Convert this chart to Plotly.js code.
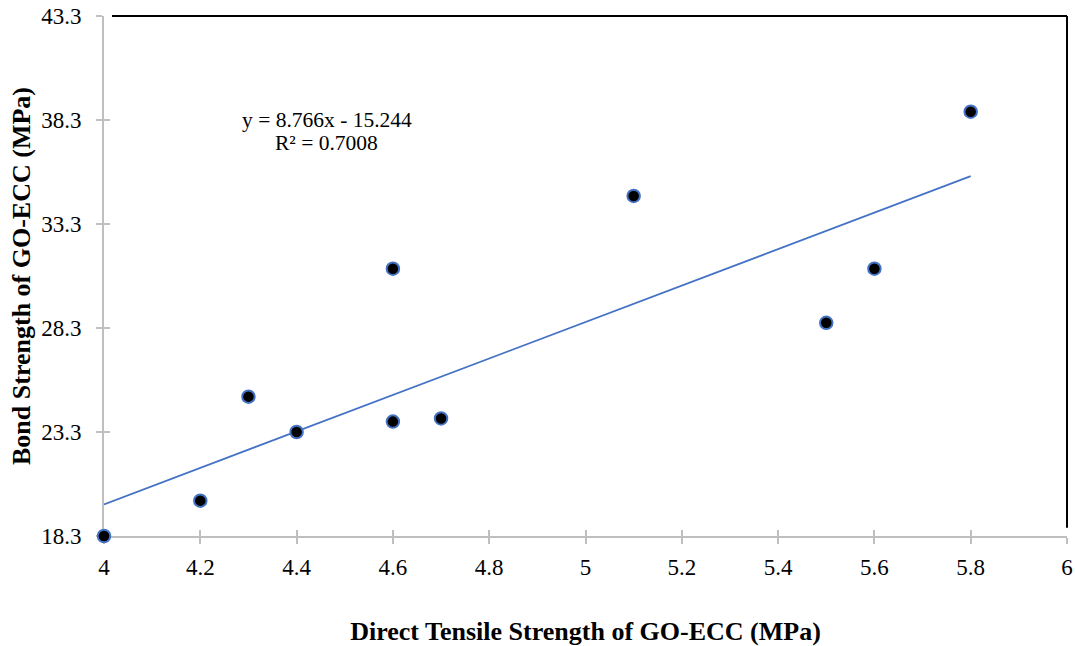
<!DOCTYPE html>
<html><head><meta charset="utf-8">
<script src="https://cdn.plot.ly/plotly-3.0.1.min.js"></script>
<style>body{margin:0;background:#fff}#c{width:1075px;height:646px}</style>
</head><body><div id="c"></div>
<script>
const tensile = [4.0, 4.2, 4.3, 4.4, 4.6, 4.6, 4.7, 5.1, 5.5, 5.6, 5.8];
const bond    = [18.3, 20.0, 25.0, 23.3, 31.15, 23.8, 23.95, 34.65, 28.55, 31.15, 38.7];
const slope = 8.766, intercept = -15.244, r2 = 0.7008;
const trendX = [4.0, 5.8];
const xTicks = [4, 4.2, 4.4, 4.6, 4.8, 5, 5.2, 5.4, 5.6, 5.8, 6];
const yTicks = [18.3, 23.3, 28.3, 33.3, 38.3, 43.3];

const font = {family: 'Liberation Serif, Times New Roman, serif', color: '#000'};
const traces = [
  {x: trendX, y: trendX.map(v => slope * v + intercept), mode: 'lines',
   line: {color: '#4472C4', width: 1.8}, hoverinfo: 'skip', showlegend: false},
  {x: tensile, y: bond, mode: 'markers', cliponaxis: false,
   marker: {color: '#000', size: 12.5, line: {color: '#4472C4', width: 2}}, showlegend: false}
];
const axBase = {showgrid: false, zeroline: false, linecolor: '#bfbfbf', linewidth: 2,
  tickcolor: '#bfbfbf', tickwidth: 2, ticklen: 6, tickmode: 'array', layer: 'below traces',
  tickfont: Object.assign({size: 23}, font)};
const layout = {
  width: 1075, height: 646,
  font: Object.assign({size: 23}, font),
  margin: {l: 104, r: 8, t: 16, b: 110},
  paper_bgcolor: '#fff', plot_bgcolor: '#fff',
  xaxis: Object.assign({}, axBase, {range: [4, 6], tickvals: xTicks,
    ticktext: xTicks.map(String), ticks: 'outside', showline: true, ticklabelstandoff: 3,
    title: {text: '<b>Direct Tensile Strength of GO-ECC (MPa)</b>', font: Object.assign({size: 26}, font), standoff: 45}}),
  yaxis: Object.assign({}, axBase, {range: [18.3, 43.3], tickvals: yTicks,
    ticktext: yTicks.map(v => v.toFixed(1)), ticks: 'outside', showline: true, ticklabelstandoff: 10,
    title: {text: '<b>Bond Strength of GO-ECC (MPa)</b>', font: Object.assign({size: 26}, font), standoff: 3}}),
  xaxis2: Object.assign({}, axBase, {range: [4, 6], tickvals: xTicks.slice(1), overlaying: 'x',
    ticks: 'inside', showticklabels: false, showline: false, anchor: 'y'}),
  yaxis2: Object.assign({}, axBase, {range: [18.3, 43.3], tickvals: yTicks.slice(1), overlaying: 'y',
    ticks: 'inside', showticklabels: false, showline: false, anchor: 'x'}),
  shapes: [
    {type: 'line', xref: 'paper', yref: 'paper', x0: 0.0083, x1: 1, y0: 1, y1: 1,
     line: {color: '#000', width: 2}},
    {type: 'line', xref: 'paper', yref: 'paper', x0: 1, x1: 1, y0: 1, y1: 0.016,
     line: {color: '#000', width: 2}}
  ],
  annotations: [
    {xref: 'x', yref: 'y', x: 4.463, y: 38.31, showarrow: false,
     text: 'y = ' + slope + 'x - ' + Math.abs(intercept), font: Object.assign({size: 21.5}, font)},
    {xref: 'x', yref: 'y', x: 4.463, y: 37.21, showarrow: false,
     text: 'R² = ' + r2, font: Object.assign({size: 21.5}, font)}
  ]
};
const dummy = {x: [5], y: [30], xaxis: 'x2', yaxis: 'y2', mode: 'markers',
  marker: {opacity: 0}, hoverinfo: 'skip', showlegend: false};
Plotly.newPlot('c', [dummy].concat(traces), layout, {displayModeBar: false});
</script></body></html>
